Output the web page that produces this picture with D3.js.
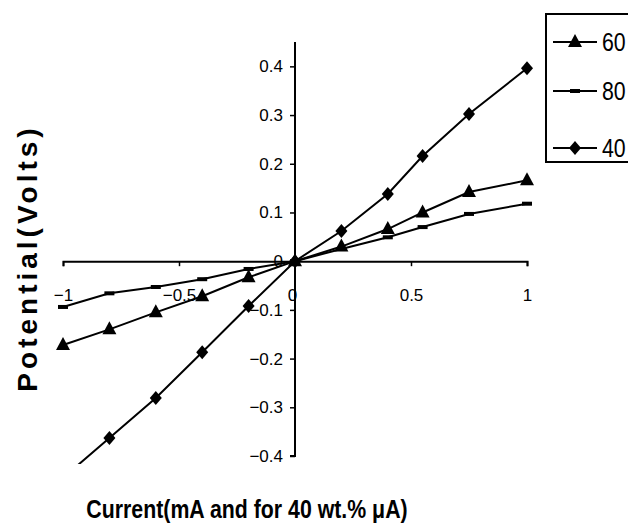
<!DOCTYPE html>
<html><head><meta charset="utf-8">
<script src="https://cdn.jsdelivr.net/npm/d3@7"></script>
<style>
body{margin:0;background:#fff;}
svg{display:block;}
text{font-family:"Liberation Sans",Arial,sans-serif;}
</style></head><body>
<svg id="c" width="628" height="523"></svg>
<script>
// Data
const xNeg = [-1, -0.8, -0.6, -0.4, -0.2, 0];
const xPos = [0.2, 0.4, 0.55, 0.75, 1];
const xValues = xNeg.concat(xPos);
const s60 = [-0.172, -0.140, -0.105, -0.072, -0.033, 0, 0.030, 0.066, 0.100, 0.142, 0.166];
const s80 = [-0.094, -0.066, -0.053, -0.037, -0.016, 0, 0.025, 0.049, 0.070, 0.097, 0.118];
const s40 = [-0.445, -0.363, -0.281, -0.187, -0.092, 0, 0.062, 0.138, 0.216, 0.302, 0.396];
const seriesNames = ["60", "80", "40"];
const xTicks = [-1, -0.5, 0, 0.5, 1];
const yTicks = [-0.4, -0.3, -0.2, -0.1, 0, 0.1, 0.2, 0.3, 0.4];
const xTitle = "Current(mA and for 40 wt.% \u03bcA)";
const yTitle = "Potential(Volts)";

const series = [
  {name: seriesNames[0], values: s60, marker: "triangle"},
  {name: seriesNames[1], values: s80, marker: "dash"},
  {name: seriesNames[2], values: s40, marker: "diamond"}
];

const svg = d3.select("#c");
const x = d3.scaleLinear().domain([-1, 1]).range([63, 527]);
const y = d3.scaleLinear().domain([-0.4, 0.45]).range([456, 42]);

svg.append("clipPath").attr("id","clip").append("rect")
  .attr("x", 0).attr("y", 0).attr("width", 628).attr("height", 464);

// X axis along y=0
const xAxis = d3.axisBottom(x).tickValues(xTicks).tickSize(5).tickFormat(d => d3.format("")(d));
const gx = svg.append("g").attr("transform", `translate(0,${y(0)})`).call(xAxis);
gx.select(".domain").attr("stroke","#000").attr("stroke-width",2);
gx.selectAll(".tick line").attr("stroke","#000").attr("stroke-width",1.5);
gx.selectAll(".tick text").attr("font-size",17).attr("fill","#000").attr("y", 40).attr("dy", 0)
  .attr("dx", d => d === 0 ? -3 : 0);

// Y axis along x=0
const yAxis = d3.axisLeft(y).tickValues(yTicks).tickSize(5).tickFormat(d => d3.format("")(+d.toFixed(1)));
const gy = svg.append("g").attr("transform", `translate(${x(0)},0)`).call(yAxis);
gy.select(".domain").attr("d", `M0,${y(0.45)}V${y(-0.4)}H-5`).attr("stroke","#000").attr("stroke-width",2);
gy.selectAll(".tick line").attr("stroke","#000").attr("stroke-width",1.5);
gy.selectAll(".tick text").attr("font-size",17).attr("fill","#000").attr("x", -12);

// Lines
const line = d3.line().x((d,i) => x(xValues[i])).y(d => y(d));
const plot = svg.append("g").attr("clip-path","url(#clip)");
series.forEach(s => {
  plot.append("path").attr("d", line(s.values)).attr("fill","none")
    .attr("stroke","#000").attr("stroke-width",2);
});

function drawMarker(g, type, cx, cy) {
  if (type === "triangle") {
    g.append("path").attr("d", `M${cx},${cy-8}L${cx+7},${cy+5}L${cx-7},${cy+5}Z`).attr("fill","#000");
  } else if (type === "diamond") {
    g.append("path").attr("d", `M${cx},${cy-7}L${cx+6},${cy}L${cx},${cy+7}L${cx-6},${cy}Z`).attr("fill","#000");
  } else {
    g.append("rect").attr("x", cx-5).attr("y", cy-2).attr("width",10).attr("height",4).attr("fill","#000");
  }
}
series.forEach(s => {
  s.values.forEach((v,i) => {
    if (v >= -0.42) drawMarker(plot, s.marker, x(xValues[i]), y(v));
  });
});

// Legend
const legendY = [42, 91, 148];
const lg = svg.append("g");
lg.append("rect").attr("x",546).attr("y",14).attr("width",100).attr("height",148)
  .attr("fill","#fff").attr("stroke","#000").attr("stroke-width",2);
series.forEach((s,i) => {
  const ly = legendY[i];
  lg.append("line").attr("x1",553).attr("x2",597).attr("y1",ly).attr("y2",ly).attr("stroke","#000").attr("stroke-width",2);
  drawMarker(lg, s.marker, 575, ly);
  lg.append("text").attr("transform", `translate(602,${ly+9}) scale(0.82,1)`)
    .attr("font-size",26).text(s.name);
});

// Titles
svg.append("text").attr("transform","translate(247,518) scale(0.82,1)").attr("text-anchor","middle")
  .attr("font-size",26).attr("font-weight","bold").text(xTitle);
svg.append("text").attr("transform","translate(37,258) rotate(-90)").attr("text-anchor","middle")
  .attr("font-size",28).attr("font-weight","bold").attr("letter-spacing",4).text(yTitle);
</script>
</body></html>
